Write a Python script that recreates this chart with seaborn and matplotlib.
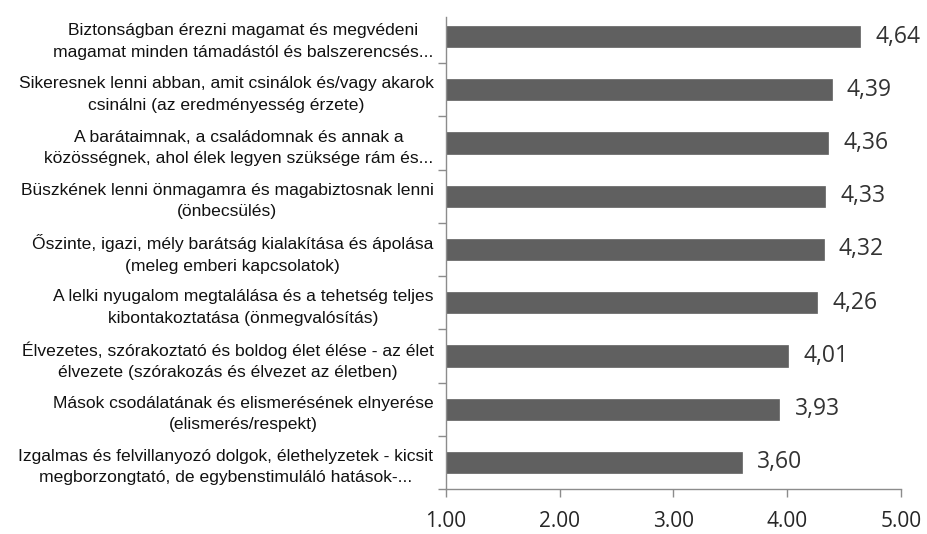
import matplotlib
matplotlib.use("Agg")
import matplotlib.pyplot as plt
import seaborn as sns
import pandas as pd
from matplotlib import font_manager as fm

categories = [
    "Biztonságban érezni magamat és megvédeni\nmagamat minden támadástól és balszerencsés...",
    "Sikeresnek lenni abban, amit csinálok és/vagy akarok\ncsinálni (az eredményesség érzete)",
    "A barátaimnak, a családomnak és annak a\nközösségnek, ahol élek legyen szüksége rám és...",
    "Büszkének lenni önmagamra és magabiztosnak lenni\n(önbecsülés)",
    "Őszinte, igazi, mély barátság kialakítása és ápolása\n(meleg emberi kapcsolatok)",
    "A lelki nyugalom megtalálása és a tehetség teljes\nkibontakoztatása (önmegvalósítás)",
    "Élvezetes, szórakoztató és boldog élet élése - az élet\nélvezete (szórakozás és élvezet az életben)",
    "Mások csodálatának és elismerésének elnyerése\n(elismerés/respekt)",
    "Izgalmas és felvillanyozó dolgok, élethelyzetek - kicsit\nmegborzongtató, de egybenstimuláló hatások-...",
]
values = [4.64, 4.39, 4.36, 4.33, 4.32, 4.26, 4.01, 3.93, 3.60]
xticks = [1.0, 2.0, 3.0, 4.0, 5.0]

label_font = "Liberation Sans"

sns.set_theme(style="white")
plt.rcParams['font.family'] = ['Open Sans', 'DejaVu Sans']

df = pd.DataFrame({"cat": categories, "val": values})

fig = plt.figure(figsize=(9.28, 5.34), dpi=100)
ax = fig.add_axes([446/928, 1-489/534, (901-446)/928, (489-10)/534])

sns.barplot(data=df, x="val", y="cat", color="#606060", width=0.4,
            saturation=1, ax=ax, edgecolor="#606060", linewidth=0.5)
ax.set_xlim(1.0, 5.0)
ax.set_ylim(len(categories)-0.5, -0.5)
ax.set_xlabel("")
ax.set_ylabel("")

# value labels
for cont in ax.containers:
    labels = [f"{v:.2f}".replace(".", ",") for v in cont.datavalues]
    ax.bar_label(cont, labels=labels, padding=11, fontsize=16.5, color="#333333",
                 family="Open Sans")

# x axis
ax.set_xticks(xticks)
ax.set_xticklabels([f"{t:.2f}" for t in xticks], fontsize=15, color="#262626")
ax.tick_params(axis="x", direction="out", length=6, width=1, color="#8c8c8c", pad=10,
               bottom=True)

# y axis: ticks at category boundaries, labels at centres
ax.set_yticks(range(len(categories)))
ax.set_yticklabels(categories, fontsize=12.6, family=label_font, color="#111111",
                   multialignment="center", linespacing=1.55)
ax.tick_params(axis="y", length=0, pad=9)
ax.set_yticks([i + 0.5 for i in range(len(categories))], minor=True)
ax.tick_params(axis="y", which="minor", direction="out", length=6, width=1,
               color="#8c8c8c", left=True)

for s in ["top", "right"]:
    ax.spines[s].set_visible(False)
for s in ["left", "bottom"]:
    ax.spines[s].set_color("#8c8c8c")
    ax.spines[s].set_linewidth(1)
ax.spines["left"].set_bounds(len(categories)-0.5, -0.37)

fig.savefig("out.png", dpi=100, facecolor="white")
